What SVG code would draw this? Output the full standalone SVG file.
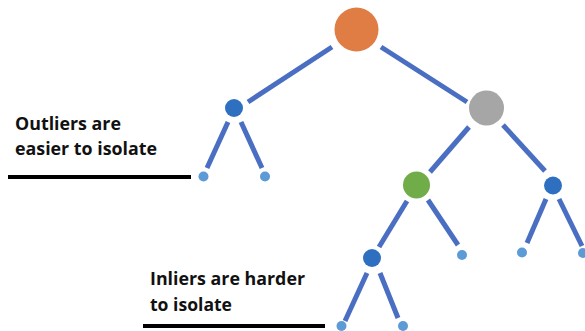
<svg xmlns="http://www.w3.org/2000/svg" width="585" height="331" viewBox="0 0 585 331">
<style>
.e{stroke:#4a6fc2;stroke-width:5;fill:none}
.leaf{fill:#5d9bd6}
.bn{fill:#2e6fc0}
.lbl{font-family:"Open Sans","Liberation Sans",sans-serif;font-weight:bold;font-size:17.5px;fill:#111}
.bar{stroke:#000;stroke-width:4}
</style>
<rect width="585" height="331" fill="#fff"/>
<g id="connectors">
<line class="e" x1="332" y1="47" x2="248" y2="102"/>
<line class="e" x1="381" y1="47" x2="467" y2="102"/>
<line class="e" x1="228" y1="122" x2="207" y2="168"/>
<line class="e" x1="241" y1="122" x2="262" y2="168"/>
<line class="e" x1="469" y1="127" x2="430" y2="172"/>
<line class="e" x1="503" y1="125" x2="545" y2="171"/>
<line class="e" x1="407" y1="201" x2="379" y2="247"/>
<line class="e" x1="428" y1="200" x2="458" y2="245"/>
<line class="e" x1="546" y1="199" x2="527" y2="243"/>
<line class="e" x1="559" y1="199" x2="582" y2="246"/>
<line class="e" x1="367" y1="273" x2="345" y2="321"/>
<line class="e" x1="380" y1="273" x2="398" y2="318"/>
</g>
<g id="root"><circle cx="356.5" cy="29.5" r="22" fill="#e07d45"/></g>
<g id="n-left"><circle class="bn" cx="234" cy="108" r="9"/></g>
<g id="n-grey"><circle cx="486.5" cy="108" r="17.5" fill="#a6a6a6"/></g>
<g id="leaf-l1"><circle class="leaf" cx="203.5" cy="176.5" r="5"/></g>
<g id="leaf-l2"><circle class="leaf" cx="265" cy="176.5" r="5"/></g>
<g id="n-green"><circle cx="416.5" cy="185" r="13.5" fill="#70ac47"/></g>
<g id="n-right"><circle class="bn" cx="553" cy="185.5" r="9"/></g>
<g id="leaf-g"><circle class="leaf" cx="462" cy="255" r="5"/></g>
<g id="leaf-r1"><circle class="leaf" cx="522" cy="252.5" r="5"/></g>
<g id="leaf-r2"><circle class="leaf" cx="583" cy="253" r="5"/></g>
<g id="n-inlier"><circle class="bn" cx="372" cy="258" r="9"/></g>
<g id="leaf-i1"><circle class="leaf" cx="341.5" cy="326" r="5"/></g>
<g id="leaf-i2"><circle class="leaf" cx="403" cy="326" r="5"/></g>
<g id="label-outliers">
<text class="lbl" x="15" y="130" textLength="106" lengthAdjust="spacingAndGlyphs">Outliers are</text>
<text class="lbl" x="15" y="155" textLength="142" lengthAdjust="spacingAndGlyphs">easier to isolate</text>
<line class="bar" x1="8" y1="177" x2="191" y2="177"/>
</g>
<g id="label-inliers">
<text class="lbl" x="150" y="285" textLength="155" lengthAdjust="spacingAndGlyphs">Inliers are harder</text>
<text class="lbl" x="150" y="311" textLength="82" lengthAdjust="spacingAndGlyphs">to isolate</text>
<line class="bar" x1="143" y1="326" x2="325" y2="326"/>
</g>
</svg>
